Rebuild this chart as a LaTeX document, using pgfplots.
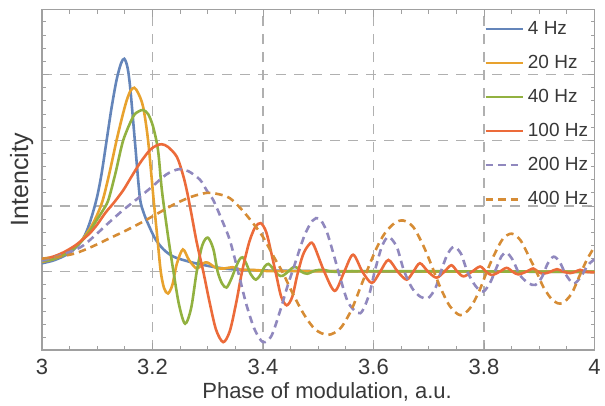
\documentclass[border=0pt]{standalone}
\usepackage{fontspec}
\setmainfont{Liberation Sans}
\usepackage{pgfplots}
\pgfplotsset{compat=1.18}

\definecolor{cA}{HTML}{6485BA}
\definecolor{cB}{HTML}{E8A22E}
\definecolor{cC}{HTML}{92B140}
\definecolor{cD}{HTML}{EC6B3A}
\definecolor{cE}{HTML}{9088BE}
\definecolor{cF}{HTML}{D68C35}
\definecolor{framegray}{HTML}{A0A0A0}
\definecolor{gridgray}{HTML}{B0B0B0}
\definecolor{txt}{HTML}{383838}

\begin{document}
\begin{tikzpicture}
\begin{axis}[
    name=ax,
    scale only axis,
    width=276.25pt, height=170.25pt,
    xmin=3, xmax=4, ymin=-1.19, ymax=3.99,
    xtick={3,3.2,3.4,3.6,3.8,4},
    minor x tick num=3,
    ytick={0,1,2,3},
    yticklabels={},
    minor ytick={-1.2,-1,-0.8,-0.6,-0.4,-0.2,0.2,0.4,0.6,0.8,1.2,1.4,1.6,1.8,2.2,2.4,2.6,2.8,3.2,3.4,3.6,3.8},
    tick align=inside,
    major tick length=3.5pt, minor tick length=2pt,
    every tick/.style={draw=framegray, line width=0.5pt},
    axis line style={draw=framegray, line width=0.6pt},
    grid=major,
    major grid style={draw=gridgray, line width=0.6pt, dash pattern=on 5pt off 4pt},
    /pgf/number format/assume math mode=true,
    ticklabel style={font=\fontsize{11}{13}\selectfont, text=txt},
    xticklabel style={anchor=base, yshift=-12pt},
    xlabel={Phase of modulation, a.u.},
    ylabel={Intencity},
    label style={text=txt},
    xlabel style={font=\fontsize{11}{13}\selectfont, at={(axis description cs:0.516,0)}, anchor=base, yshift=-24pt},
    ylabel style={font=\fontsize{12.5}{14}\selectfont, at={(axis description cs:-0.037,0.5)}, anchor=center},
    legend cell align=left,
    legend image code/.code={\draw[#1] (0pt,0pt) -- (18.5pt,0pt);},
    legend style={at={(axis description cs:0.789,0.991)}, anchor=north west,
        draw=none, fill=none, font=\fontsize{9.5}{11}\selectfont, text=txt,
        row sep=4.9pt},
]

% 4 Hz
\addplot[cA, line width=1.3pt, smooth] coordinates {
(3.000,0.13) (3.020,0.17) (3.040,0.24) (3.055,0.32) (3.070,0.45) (3.080,0.60)
(3.090,0.84) (3.100,1.15) (3.108,1.50) (3.117,2.00) (3.126,2.50) (3.135,2.92)
(3.143,3.17) (3.149,3.24) (3.155,3.10) (3.160,2.77) (3.168,2.00) (3.177,1.14)
(3.184,0.90) (3.192,0.73) (3.205,0.50) (3.220,0.34) (3.238,0.23) (3.268,0.15)
(3.300,0.09) (3.330,0.05) (3.360,0.03) (3.400,0.02) (3.500,0.01) (3.600,0.005)
(4.000,0.0)};
\addlegendentry{4 Hz}

% 20 Hz
\addplot[cB, line width=1.3pt, smooth] coordinates {
(3.000,0.15) (3.020,0.19) (3.040,0.26) (3.055,0.34) (3.070,0.46) (3.080,0.57)
(3.090,0.70) (3.100,0.87) (3.110,1.09) (3.122,1.50) (3.135,2.00) (3.145,2.35)
(3.153,2.60) (3.160,2.75) (3.167,2.80) (3.174,2.72) (3.183,2.51) (3.192,2.00)
(3.202,1.10) (3.209,0.50) (3.215,0.00) (3.221,-0.25) (3.228,-0.33) (3.236,-0.20)
(3.244,0.12) (3.255,0.34) (3.266,0.18) (3.280,0.05) (3.292,0.13) (3.300,0.14)
(3.315,0.06) (3.330,0.05) (3.345,0.07) (3.360,0.03) (3.380,0.03) (3.400,0.02)
(3.450,0.01) (4.000,0.0)};
\addlegendentry{20 Hz}

% 40 Hz
\addplot[cC, line width=1.3pt, smooth] coordinates {
(3.000,0.16) (3.020,0.19) (3.040,0.26) (3.055,0.34) (3.070,0.45) (3.085,0.60)
(3.100,0.80) (3.110,0.93) (3.120,1.09) (3.133,1.50) (3.147,2.00) (3.165,2.36)
(3.175,2.44) (3.183,2.46) (3.192,2.40) (3.201,2.21) (3.210,1.85) (3.217,1.24)
(3.228,0.55) (3.238,0.00) (3.248,-0.50) (3.259,-0.79) (3.270,-0.55) (3.280,0.00)
(3.290,0.40) (3.300,0.52) (3.310,0.35) (3.318,0.00) (3.326,-0.18) (3.334,-0.24)
(3.342,-0.12) (3.350,0.05) (3.357,0.18) (3.363,0.22) (3.370,0.12) (3.378,-0.04)
(3.387,-0.12) (3.395,-0.05) (3.403,0.08) (3.410,0.12) (3.418,0.05) (3.428,-0.05)
(3.436,-0.06) (3.445,0.00) (3.455,0.07) (3.462,0.06) (3.470,0.00) (3.480,-0.03)
(3.495,0.02) (3.510,0.03) (3.530,0.00) (3.600,0.01) (4.000,0.0)};
\addlegendentry{40 Hz}

% 100 Hz
\addplot[cD, line width=1.3pt, smooth] coordinates {
(3.000,0.19) (3.020,0.23) (3.040,0.30) (3.060,0.40) (3.075,0.50) (3.087,0.59)
(3.100,0.72) (3.115,0.90) (3.130,1.05) (3.147,1.24) (3.160,1.42) (3.177,1.65)
(3.195,1.85) (3.207,1.92) (3.217,1.94) (3.228,1.90) (3.244,1.75) (3.255,1.48)
(3.262,1.24) (3.270,0.90) (3.280,0.45) (3.292,0.00) (3.303,-0.45) (3.315,-0.88)
(3.328,-1.07) (3.340,-0.90) (3.352,-0.45) (3.362,0.00) (3.375,0.45) (3.386,0.68)
(3.396,0.74) (3.406,0.60) (3.416,0.25) (3.424,-0.05) (3.433,-0.38) (3.443,-0.51)
(3.453,-0.38) (3.462,-0.05) (3.472,0.25) (3.482,0.40) (3.491,0.42) (3.511,0.00)
(3.530,-0.29) (3.547,0.00) (3.563,0.26) (3.580,0.00) (3.597,-0.17) (3.612,0.00)
(3.627,0.18) (3.644,0.00) (3.660,-0.12) (3.672,0.00) (3.684,0.13) (3.699,0.00)
(3.714,-0.09) (3.728,0.00) (3.741,0.10) (3.752,0.00) (3.763,-0.07) (3.778,0.00)
(3.793,0.08) (3.804,0.00) (3.814,-0.05) (3.828,0.00) (3.841,0.06) (3.852,0.00)
(3.862,-0.04) (3.876,0.00) (3.889,0.05) (3.898,0.00) (3.907,-0.03) (3.920,0.00)
(3.932,0.04) (3.944,0.00) (3.956,-0.02) (3.965,0.00) (3.974,0.03) (3.985,0.00)
(4.000,-0.01)};
\addlegendentry{100 Hz}

% 200 Hz
\addplot[cE, line width=1.3pt, smooth, dash pattern=on 3.75pt off 2.5pt] coordinates {
(3.000,0.17) (3.030,0.24) (3.069,0.37) (3.093,0.53) (3.120,0.74) (3.147,0.94)
(3.177,1.14) (3.200,1.30) (3.225,1.48) (3.247,1.56) (3.265,1.53) (3.286,1.40)
(3.298,1.24) (3.310,1.09) (3.325,0.80) (3.340,0.48) (3.355,0.00) (3.370,-0.50)
(3.385,-0.88) (3.400,-1.07) (3.415,-0.98) (3.430,-0.62) (3.445,-0.20) (3.455,0.05)
(3.475,0.55) (3.490,0.78) (3.502,0.81) (3.515,0.62) (3.530,0.20) (3.540,-0.10)
(3.555,-0.48) (3.576,-0.63) (3.592,-0.35) (3.602,0.00) (3.615,0.38) (3.627,0.53)
(3.642,0.38) (3.655,0.02) (3.670,-0.25) (3.685,-0.38) (3.699,-0.40) (3.712,-0.25)
(3.722,0.00) (3.733,0.25) (3.745,0.38) (3.758,0.28) (3.770,0.00) (3.785,-0.22)
(3.799,-0.30) (3.812,-0.15) (3.822,0.05) (3.832,0.24) (3.841,0.29) (3.852,0.18)
(3.865,-0.05) (3.880,-0.17) (3.893,-0.20) (3.905,-0.08) (3.915,0.12) (3.926,0.23)
(3.937,0.15) (3.948,-0.04) (3.962,-0.18) (3.975,-0.08) (3.988,0.10) (4.000,0.19)};
\addlegendentry{200 Hz}

% 400 Hz
\addplot[cF, line width=1.3pt, smooth, dash pattern=on 3.75pt off 2.5pt] coordinates {
(3.000,0.20) (3.030,0.23) (3.060,0.28) (3.090,0.38) (3.120,0.50) (3.150,0.62)
(3.180,0.75) (3.210,0.89) (3.240,1.03) (3.270,1.14) (3.298,1.20) (3.320,1.18)
(3.340,1.12) (3.360,0.96) (3.380,0.76) (3.400,0.53) (3.420,0.22) (3.435,0.00)
(3.455,-0.35) (3.475,-0.66) (3.495,-0.88) (3.518,-0.96) (3.540,-0.86) (3.560,-0.58)
(3.578,-0.20) (3.590,0.05) (3.605,0.35) (3.620,0.58) (3.638,0.74) (3.654,0.78)
(3.672,0.68) (3.690,0.40) (3.705,0.10) (3.720,-0.22) (3.738,-0.52) (3.757,-0.66)
(3.775,-0.55) (3.792,-0.28) (3.805,0.00) (3.818,0.25) (3.834,0.50) (3.850,0.58)
(3.866,0.48) (3.882,0.22) (3.895,0.00) (3.908,-0.24) (3.925,-0.44) (3.941,-0.48)
(3.958,-0.34) (3.972,-0.08) (3.986,0.18) (4.000,0.38)};
\addlegendentry{400 Hz}

\end{axis}
\pgfresetboundingbox
\path[use as bounding box] ([xshift=-21pt,yshift=-27.5pt]ax.south west) rectangle ([xshift=5.25pt,yshift=4.75pt]ax.north east);
\end{tikzpicture}
\end{document}
